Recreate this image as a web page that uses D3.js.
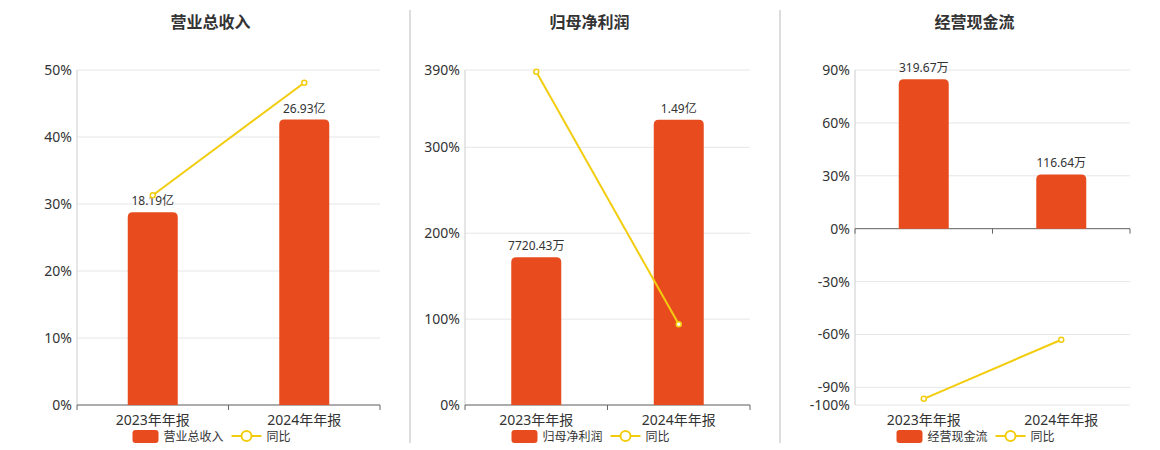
<!DOCTYPE html>
<html lang="en">
<head>
<meta charset="UTF-8">
<script src="https://cdnjs.cloudflare.com/ajax/libs/d3/7.8.5/d3.min.js"></script>
<style>body{margin:0;background:#fff;font-family:"Noto Sans","Noto Sans CJK SC",sans-serif;}</style>
</head>
<body>
<div id="chart"></div>
<script>
var categories = ["2023年年报", "2024年年报"];
var titles = ["营业总收入", "归母净利润", "经营现金流"];
var barValues = [[18.19, 26.93], [7720.43, 14900], [319.67, 116.64]];
var barLabels = [["18.19亿", "26.93亿"], ["7720.43万", "1.49亿"], ["319.67万", "116.64万"]];
var yoyValues = [[31.3, 48.1], [388, 94], [-96.5, -63]];
var yTicks = [[0, 10, 20, 30, 40, 50], [0, 100, 200, 300, 390], [90, 60, 30, 0, -30, -60, -90, -100]];
var yDomains = [[0, 50], [0, 390], [-100, 90]];
var barDomains = [[0, 31.6], [0, 17500], [-375, 339.5]];

var red = "#E84C1E", yellow = "#F2CD0F";
var svg = d3.select("#chart").append("svg").attr("width", 1160).attr("height", 450);

var panels = [{left: 77, right: 380}, {left: 465, right: 750}, {left: 855, right: 1130}];
var plotTop = 70, plotBottom = 405;

[410, 780].forEach(function (x) {
    svg.append("line").attr("x1", x).attr("x2", x).attr("y1", 10).attr("y2", 443)
        .attr("stroke", "#bbb");
});

panels.forEach(function (p, i) {
    var g = svg.append("g");
    var cx = (p.left + p.right) / 2;
    g.append("text").attr("x", cx - 18).attr("y", 28).attr("text-anchor", "middle")
        .attr("font-size", 16).attr("font-weight", "bold").attr("fill", "#333").text(titles[i]);

    var x = d3.scaleBand().domain(categories).range([p.left, p.right]);
    var y = d3.scaleLinear().domain(yDomains[i]).range([plotBottom, plotTop]);
    var yb = d3.scaleLinear().domain(barDomains[i]).range([plotBottom, plotTop]);
    var zero = y(0);

    // grid
    g.selectAll(".grid").data(yTicks[i]).enter().append("line")
        .attr("x1", p.left).attr("x2", p.right)
        .attr("y1", function (d) { return y(d); }).attr("y2", function (d) { return y(d); })
        .attr("stroke", "#e6e6e6");
    g.append("line").attr("x1", p.left).attr("x2", p.left).attr("y1", plotTop).attr("y2", plotBottom)
        .attr("stroke", "#ccc");
    g.selectAll(".tl").data(yTicks[i]).enter().append("text")
        .attr("x", p.left - 5).attr("y", function (d) { return y(d) + 5; })
        .attr("text-anchor", "end").attr("font-size", 14).attr("fill", "#333")
        .text(function (d) { return d + "%"; });

    // category axis on zero line
    g.append("line").attr("x1", p.left).attr("x2", p.right).attr("y1", zero).attr("y2", zero)
        .attr("stroke", "#666");
    [p.left, x(categories[1]), p.right].forEach(function (t) {
        g.append("line").attr("x1", t).attr("x2", t).attr("y1", zero).attr("y2", zero + 5)
            .attr("stroke", "#666");
    });
    g.selectAll(".cl").data(categories).enter().append("text")
        .attr("x", function (d) { return x(d) + x.bandwidth() / 2; }).attr("y", 425)
        .attr("text-anchor", "middle").attr("font-size", 14).attr("fill", "#333")
        .text(function (d) { return d; });

    // bars
    var bw = 50, r = 5;
    barValues[i].forEach(function (v, j) {
        var c = x(categories[j]) + x.bandwidth() / 2;
        var yt = yb(v), x0 = c - bw / 2, x1 = c + bw / 2;
        g.append("path").attr("fill", red)
            .attr("d", "M" + x0 + "," + zero + "V" + (yt + r) + "Q" + x0 + "," + yt + " " + (x0 + r) + "," + yt +
                "H" + (x1 - r) + "Q" + x1 + "," + yt + " " + x1 + "," + (yt + r) + "V" + zero + "Z");
        g.append("text").attr("x", c).attr("y", yt - 7).attr("text-anchor", "middle")
            .attr("font-size", 12).attr("fill", "#333").text(barLabels[i][j]);
    });

    // yoy line
    var line = d3.line()
        .x(function (d, j) { return x(categories[j]) + x.bandwidth() / 2; })
        .y(function (d) { return y(d); });
    g.append("path").datum(yoyValues[i]).attr("d", line).attr("fill", "none")
        .attr("stroke", yellow).attr("stroke-width", 2);
    g.selectAll(".pt").data(yoyValues[i]).enter().append("circle")
        .attr("cx", function (d, j) { return x(categories[j]) + x.bandwidth() / 2; })
        .attr("cy", function (d) { return y(d); }).attr("r", 2.5)
        .attr("fill", "#fff").attr("stroke", yellow).attr("stroke-width", 1.5);

    // legend
    var tw = titles[i].length * 12;
    var total = 26 + 5 + tw + 12 + 30 + 5 + 24;
    var lx = cx - total / 2 - 15;
    g.append("rect").attr("x", lx).attr("y", 430).attr("width", 26).attr("height", 13).attr("rx", 3)
        .attr("fill", red);
    g.append("text").attr("x", lx + 31).attr("y", 441).attr("font-size", 12).attr("fill", "#333")
        .text(titles[i]);
    var l2 = lx + 31 + tw + 8;
    g.append("line").attr("x1", l2).attr("x2", l2 + 30).attr("y1", 436).attr("y2", 436)
        .attr("stroke", yellow).attr("stroke-width", 2);
    g.append("circle").attr("cx", l2 + 15).attr("cy", 436).attr("r", 5)
        .attr("fill", "#fff").attr("stroke", yellow).attr("stroke-width", 2);
    g.append("text").attr("x", l2 + 35).attr("y", 441).attr("font-size", 12).attr("fill", "#333")
        .text("同比");
});
</script>
</body>
</html>
